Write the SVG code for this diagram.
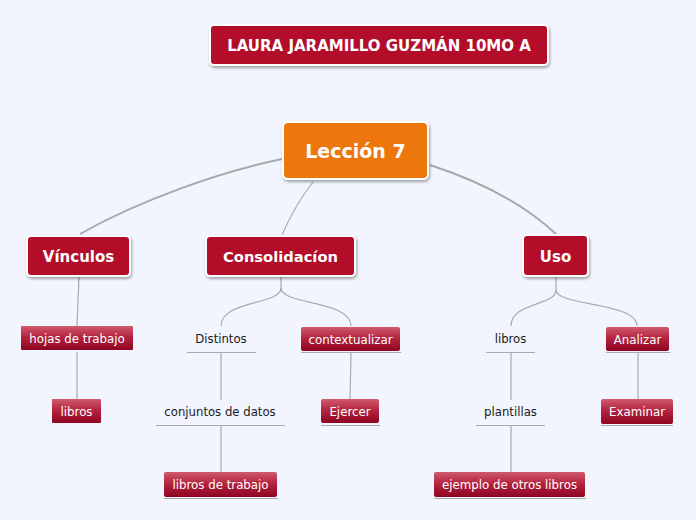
<svg xmlns="http://www.w3.org/2000/svg" width="696" height="520" viewBox="0 0 696 520">
<defs>
<linearGradient id="g" x1="0" y1="0" x2="0" y2="1">
<stop offset="0" stop-color="#cf5a6e"/>
<stop offset="0.45" stop-color="#b52540"/>
<stop offset="1" stop-color="#8e0422"/>
</linearGradient>
<filter id="sh" x="-10%" y="-10%" width="130%" height="140%">
<feDropShadow dx="1" dy="2" stdDeviation="1.5" flood-color="#000" flood-opacity="0.35"/>
</filter>
</defs>
<style>
.big{fill:#b30c2a;stroke:#fff;stroke-width:2;filter:url(#sh)}
.main{fill:#ee7711;stroke:#fff;stroke-width:2;filter:url(#sh)}
.sub{fill:url(#g)}
.ul{stroke:#aaaaaa;stroke-width:1}
.c{fill:none;stroke:#aaaaaa;stroke-width:1.2}
.ct{fill:none;stroke:#a8a8a8;stroke-width:2}
.tb{font-family:"DejaVu Sans",Verdana,sans-serif;font-weight:bold;fill:#fff;text-anchor:middle}
.tw{font-family:"DejaVu Sans",Verdana,sans-serif;font-size:11.8px;fill:#fff;text-anchor:middle}
.tk{font-family:"DejaVu Sans",Verdana,sans-serif;font-size:11.7px;fill:#1a1a1a;text-anchor:middle}
</style>
<rect width="696" height="520" fill="#f2f5fe"/>
<g id="connectors">
<path class="ct" d="M282,159 C220,172 140,200 80,234"/>
<path class="ct" d="M430,165 C470,178 520,200 557,235"/>
<path class="c" d="M313,182 Q295,205 282,235"/>
<path class="c" d="M79,277 L77,326"/>
<path class="c" d="M77,352 L77,399"/>
<path class="c" d="M281,277 L281,288 C281,305 221,300 221,326"/>
<path class="c" d="M281,288 C281,305 351,300 351,326"/>
<path class="c" d="M221,353 L221,400"/>
<path class="c" d="M221,426 L221,472"/>
<path class="c" d="M351,353 L350,399"/>
<path class="c" d="M556,277 L556,290 C556,306 511,302 511,326"/>
<path class="c" d="M556,290 C556,306 637,302 637,326"/>
<path class="c" d="M511,353 L511,400"/>
<path class="c" d="M511,426 L511,472"/>
<path class="c" d="M638,353 L638,399"/>
</g>
<g id="title">
<rect class="big" x="210" y="25" width="338" height="40" rx="4"/>
<text class="tb" x="379" y="50.5" font-size="15">LAURA JARAMILLO GUZMÁN 10MO A</text>
</g>
<g id="leccion">
<rect class="main" x="283" y="122" width="145" height="57" rx="5"/>
<text class="tb" x="355.5" y="158" font-size="19">Lección 7</text>
</g>
<g id="vinculos">
<rect class="big" x="27" y="236" width="103" height="40" rx="4"/>
<text class="tb" x="78.5" y="262" font-size="15">Vínculos</text>
</g>
<g id="consolidacion">
<rect class="big" x="206" y="236" width="149" height="40" rx="4"/>
<text class="tb" x="280.5" y="262" font-size="14.7">Consolidacíon</text>
</g>
<g id="uso">
<rect class="big" x="523" y="235" width="65" height="41" rx="4"/>
<text class="tb" x="555.5" y="262" font-size="15">Uso</text>
</g>
<g id="hojas">
<rect class="sub" x="21" y="326" width="112" height="24" rx="1"/>
<text class="tw" x="77" y="343">hojas de trabajo</text>
</g>
<g id="libros1">
<rect class="sub" x="52" y="399" width="49" height="24" rx="1"/>
<text class="tw" x="76.5" y="416">libros</text>
</g>
<g id="distintos">
<text class="tk" x="221" y="343">Distintos</text>
<line class="ul" x1="187" y1="352.5" x2="256" y2="352.5"/>
</g>
<g id="conjuntos">
<text class="tk" x="220" y="416">conjuntos de datos</text>
<line class="ul" x1="156" y1="425.5" x2="285" y2="425.5"/>
</g>
<g id="librostrabajo">
<rect class="sub" x="164" y="472" width="113" height="25" rx="2"/>
<text class="tw" x="220.5" y="489">libros de trabajo</text>
<line class="ul" x1="164" y1="498.5" x2="278" y2="498.5"/>
</g>
<g id="contextualizar">
<rect class="sub" x="301" y="327" width="99" height="24" rx="2"/>
<text class="tw" x="350.5" y="344">contextualizar</text>
<line class="ul" x1="301" y1="352.5" x2="401" y2="352.5"/>
</g>
<g id="ejercer">
<rect class="sub" x="321" y="399" width="58" height="24" rx="2"/>
<text class="tw" x="350" y="416">Ejercer</text>
<line class="ul" x1="321" y1="425.5" x2="380" y2="425.5"/>
</g>
<g id="libros2">
<text class="tk" x="510.5" y="343">libros</text>
<line class="ul" x1="486" y1="352.5" x2="535" y2="352.5"/>
</g>
<g id="plantillas">
<text class="tk" x="510.5" y="416">plantillas</text>
<line class="ul" x1="476" y1="425.5" x2="545" y2="425.5"/>
</g>
<g id="ejemplo">
<rect class="sub" x="434" y="472" width="151" height="25" rx="2"/>
<text class="tw" x="509.5" y="489">ejemplo de otros libros</text>
<line class="ul" x1="434" y1="498.5" x2="586" y2="498.5"/>
</g>
<g id="analizar">
<rect class="sub" x="606" y="327" width="63" height="24" rx="2"/>
<text class="tw" x="637.5" y="344">Analizar</text>
<line class="ul" x1="606" y1="352.5" x2="670" y2="352.5"/>
</g>
<g id="examinar">
<rect class="sub" x="601" y="399" width="72" height="25" rx="2"/>
<text class="tw" x="637" y="416">Examinar</text>
<line class="ul" x1="601" y1="425.5" x2="673" y2="425.5"/>
</g>
</svg>
